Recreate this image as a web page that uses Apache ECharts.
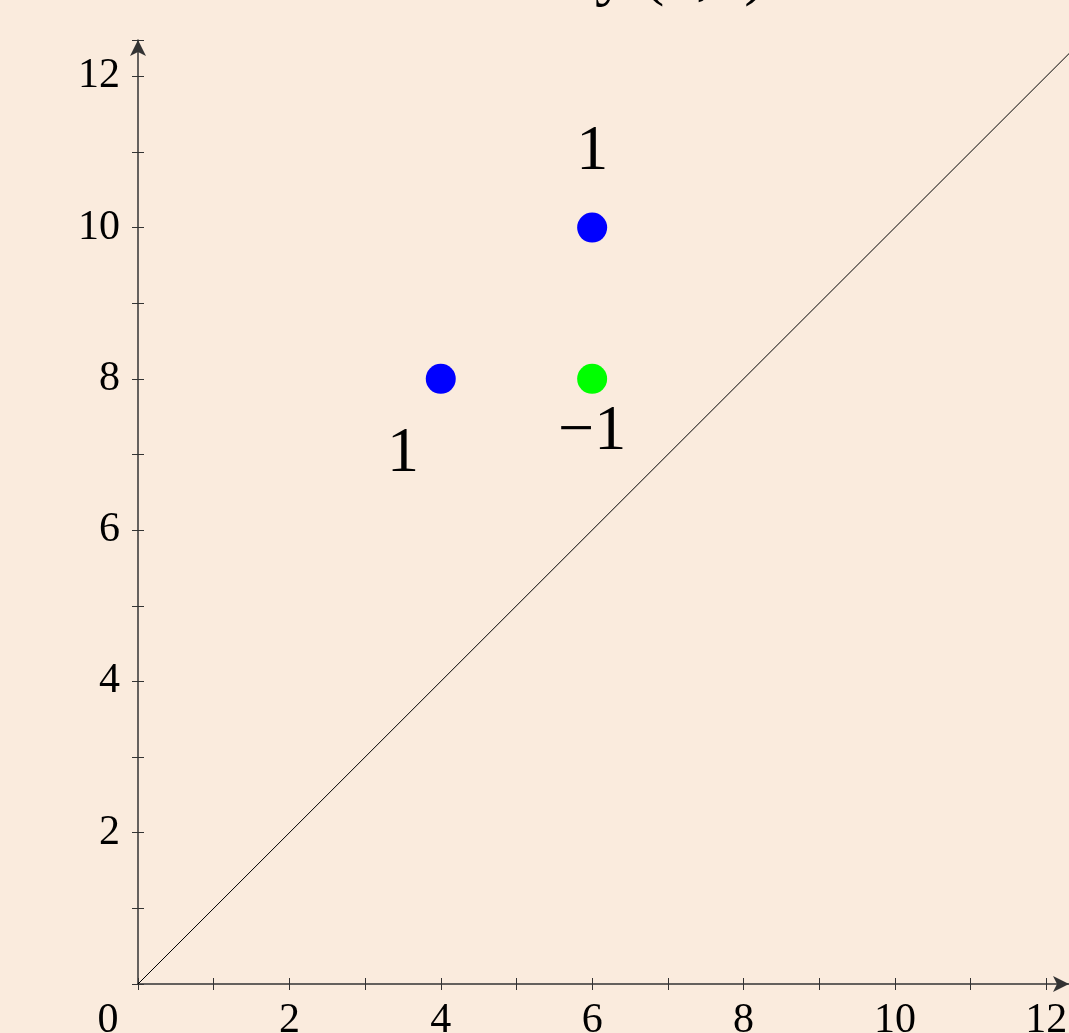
<!DOCTYPE html>
<html><head><meta charset="utf-8">
<script src="https://cdn.jsdelivr.net/npm/echarts@6/dist/echarts.min.js"></script>
<style>html,body{margin:0;padding:0;background:#FAEBDD;}#c{width:1069px;height:1033px;}</style>
</head><body><div id="c"></div>
<script>
const bluePoints = [[4, 8], [6, 10]];
const greenPoints = [[6, 8]];
const diagLine = [[0, 0], [13, 13]];
const weightLabels = [[6, 11, '1'], [3.5, 7.0, '1'], [6, 7.29, '\u22121']];
const titleText = 'y (4,8)';

const serif = '"Liberation Serif", "DejaVu Serif", serif';
const chart = echarts.init(document.getElementById('c'));
const axisCommon = (extra) => Object.assign({
  type: 'value', min: 0, interval: 1, splitLine: {show: false},
  axisLine: {lineStyle: {color: '#333', width: 1.5}},
  axisTick: {length: 6, lineStyle: {color: '#333', width: 1}},
}, extra);
const arrowLine = {lineStyle: {color: '#333', width: 1.5}, symbol: ['none', 'arrow'], symbolSize: [12, 16]};
chart.setOption({
  backgroundColor: '#FAEBDD',
  animation: false,
  grid: {left: 138, right: 0, top: 40, bottom: 49, containLabel: false, outerBoundsMode: 'none'},
  xAxis: [
    axisCommon({max: 12.3, position: 'bottom', axisLine: arrowLine,
      axisLabel: {fontFamily: serif, fontSize: 42, color: '#000', margin: 16,
        formatter: v => (v % 2 === 0 && v <= 12) ? (v === 0 ? '{z|0}' : String(v)) : '',
        rich: {z: {fontFamily: serif, fontSize: 42, color: '#000', padding: [0, 60, 0, 0]}}}}),
    axisCommon({max: 12.3, position: 'bottom', axisLine: {show: false},
      axisTick: {inside: true, length: 6, lineStyle: {color: '#333', width: 1}},
      axisLabel: {show: false}})
  ],
  yAxis: [
    axisCommon({max: 12.48, position: 'left', axisLine: arrowLine,
      axisLabel: {fontFamily: serif, fontSize: 42, color: '#000', margin: 18,
        formatter: v => (v % 2 === 0 && v > 0 && v <= 12) ? String(v) : ''}}),
    axisCommon({max: 12.48, position: 'left', axisLine: {show: false},
      axisTick: {inside: true, length: 6, lineStyle: {color: '#333', width: 1}},
      axisLabel: {show: false}})
  ],
  series: [
    {type: 'line', data: diagLine, symbol: 'none', clip: true,
      lineStyle: {color: '#000', width: 1}, silent: true},
    {type: 'scatter', data: bluePoints, symbolSize: 30, itemStyle: {color: '#0000FF', opacity: 1}},
    {type: 'scatter', data: greenPoints, symbolSize: 30, itemStyle: {color: '#00FF00', opacity: 1}},
    {type: 'scatter', data: weightLabels, symbolSize: 1, itemStyle: {opacity: 0},
      label: {show: true, position: 'inside', formatter: p => p.data[2], opacity: 1,
        fontFamily: serif, fontSize: 64, color: '#000', textBorderWidth: 0}}
  ],
  graphic: [{type: 'text', left: 595, top: -56,
    style: {text: titleText, font: '64px ' + serif, fill: '#000'}}]
});
</script></body></html>
